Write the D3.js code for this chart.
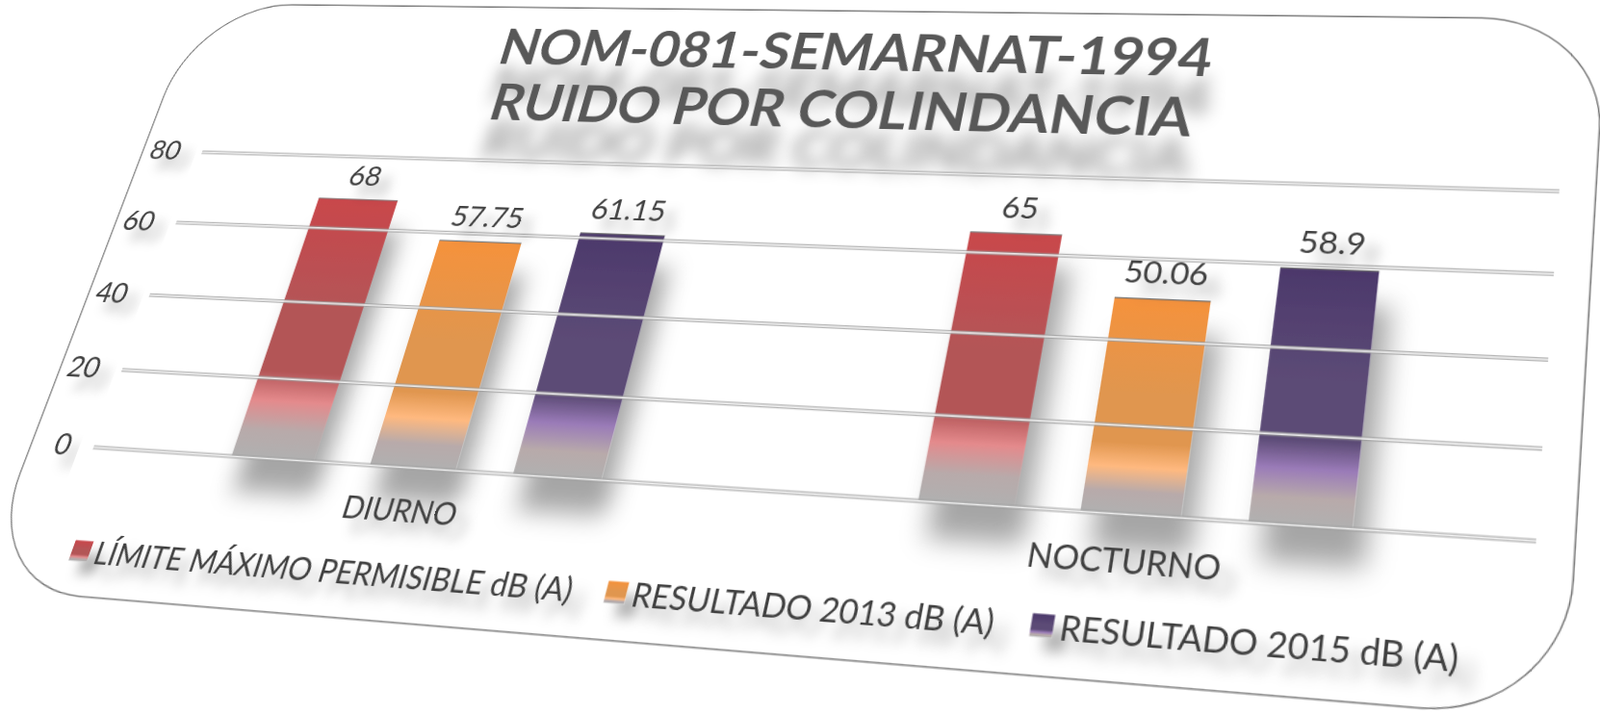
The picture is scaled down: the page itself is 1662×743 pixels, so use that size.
<!DOCTYPE html>
<html>
<head>
<meta charset="utf-8">
<script src="https://cdn.jsdelivr.net/npm/d3@7"></script>
<style>
  html, body { margin: 0; padding: 0; background: #fff; width: 1662px; height: 743px; overflow: hidden; }
  #chart { position: absolute; left: 0; top: 0; transform-origin: 0 0; }
  text { font-family: Lato, "Open Sans", sans-serif; }
</style>
</head>
<body>
<svg id="chart"></svg>
<script>
// data
const categories = ["DIURNO", "NOCTURNO"];
const seriesNames = ["LÍMITE MÁXIMO PERMISIBLE dB (A)", "RESULTADO 2013 dB (A)", "RESULTADO 2015 dB (A)"];
const limite = [68, 65];
const resultado2013 = [57.75, 50.06];
const resultado2015 = [61.15, 58.9];
const yTicks = [0, 20, 40, 60, 80];
const titleLines = ["NOM-081-SEMARNAT-1994", "RUIDO POR COLINDANCIA"];

const seriesValues = [limite, resultado2013, resultado2015];
const topColors = ["#c9474b", "#f5923c", "#4c386b"];
const midColors = ["#b35557", "#e0964f", "#5c4b76"];
const bandColors = ["#e48a8c", "#ffb97f", "#9a7bb8"];

// flat chart size, later bent into perspective with a matrix3d
const FW = 1800, FH = 900;
const ox = 250, oy = 250, W = 1400, H = 325;

// where the plot corners land on screen (80 line ends, 0 line ends)
const quad = [[210, 157.7], [1620, 198.3], [1596, 561.7], [97.3, 464.3]];
const flatCorners = [[ox, oy], [ox + W, oy], [ox + W, oy + H], [ox, oy + H]];

function solve(A, b) {
  const n = b.length;
  for (let i = 0; i < n; i++) {
    let p = i;
    for (let r = i + 1; r < n; r++) if (Math.abs(A[r][i]) > Math.abs(A[p][i])) p = r;
    [A[i], A[p]] = [A[p], A[i]]; [b[i], b[p]] = [b[p], b[i]];
    for (let r = i + 1; r < n; r++) {
      const f = A[r][i] / A[i][i];
      for (let c = i; c < n; c++) A[r][c] -= f * A[i][c];
      b[r] -= f * b[i];
    }
  }
  const x = new Array(n).fill(0);
  for (let i = n - 1; i >= 0; i--) {
    let s = b[i];
    for (let c = i + 1; c < n; c++) s -= A[i][c] * x[c];
    x[i] = s / A[i][i];
  }
  return x;
}

const A = [], B = [];
flatCorners.forEach(([x, y], i) => {
  const [X, Y] = quad[i];
  A.push([x, y, 1, 0, 0, 0, -x * X, -y * X]); B.push(X);
  A.push([0, 0, 0, x, y, 1, -x * Y, -y * Y]); B.push(Y);
});
const [a, b, c, d, e, f, g, h] = solve(A, B);

// inverse of the 3x3 homography, to place things seen on screen
const M = [[a, b, c], [d, e, f], [g, h, 1]];
function inv3(m) {
  const [[p, q, r], [s, t, u], [v, w, z]] = m;
  const det = p * (t * z - u * w) - q * (s * z - u * v) + r * (s * w - t * v);
  return [
    [(t * z - u * w) / det, (r * w - q * z) / det, (q * u - r * t) / det],
    [(u * v - s * z) / det, (p * z - r * v) / det, (r * s - p * u) / det],
    [(s * w - t * v) / det, (q * v - p * w) / det, (p * t - q * s) / det]
  ];
}
const Mi = inv3(M);
function unproject([X, Y]) {
  const k = Mi[2][0] * X + Mi[2][1] * Y + Mi[2][2];
  return [(Mi[0][0] * X + Mi[0][1] * Y + Mi[0][2]) / k, (Mi[1][0] * X + Mi[1][1] * Y + Mi[1][2]) / k];
}

const svg = d3.select("#chart")
  .attr("width", FW)
  .attr("height", FH)
  .style("transform", `matrix3d(${a},${d},0,${g},${b},${e},0,${h},0,0,1,0,${c},${f},0,1)`);

const defs = svg.append("defs");

function shadow(id, dx, dy, sd, op) {
  const fl = defs.append("filter").attr("id", id)
    .attr("x", "-50%").attr("y", "-50%").attr("width", "200%").attr("height", "250%");
  fl.append("feGaussianBlur").attr("in", "SourceAlpha").attr("stdDeviation", sd);
  fl.append("feOffset").attr("dx", dx).attr("dy", dy).attr("result", "off");
  fl.append("feFlood").attr("flood-color", "#000").attr("flood-opacity", op);
  fl.append("feComposite").attr("in2", "off").attr("operator", "in");
  const m = fl.append("feMerge");
  m.append("feMergeNode");
  m.append("feMergeNode").attr("in", "SourceGraphic");
}
shadow("barShadow", 14, 34, 12, 0.35);
shadow("titleShadow", 4, 44, 9, 0.4);
shadow("labelShadow", 14, 12, 6, 0.3);

seriesNames.forEach((s, i) => {
  const lg = defs.append("linearGradient").attr("id", "grad" + i)
    .attr("x1", 0).attr("y1", 0).attr("x2", 0).attr("y2", 1);
  [[0, topColors[i]], [0.45, midColors[i]], [0.68, midColors[i]], [0.79, bandColors[i]],
   [0.9, "#b8aaaa"], [1, "#b0b0b0"]].forEach(([o, col]) => {
    lg.append("stop").attr("offset", o).attr("stop-color", col);
  });
});

// chart frame
const fTL = unproject([206, 4]), fTR = unproject([1667, 20]);
const fBR = unproject([1628, 741]), fBL = unproject([-26, 617]);
const frameX = (fTL[0] + fBL[0]) / 2, frameX2 = (fTR[0] + fBR[0]) / 2;
const frameY = (fTL[1] + fTR[1]) / 2, frameY2 = (fBL[1] + fBR[1]) / 2;
svg.append("rect")
  .attr("x", frameX).attr("y", frameY)
  .attr("width", frameX2 - frameX).attr("height", frameY2 - frameY)
  .attr("rx", 115).attr("ry", 115)
  .attr("fill", "#fff").attr("stroke", "#707070").attr("stroke-width", 1.3);

// title
const titleAt = [unproject([876, 52]), unproject([861, 112])];
svg.append("g").attr("filter", "url(#titleShadow)")
  .selectAll("text").data(titleLines).join("text")
  .attr("x", (t, i) => titleAt[i][0])
  .attr("y", (t, i) => titleAt[i][1])
  .attr("text-anchor", "middle")
  .attr("dominant-baseline", "central")
  .attr("font-size", 58)
  .attr("font-weight", 700)
  .attr("fill", "#595959")
  .text(t => t);

const plot = svg.append("g").attr("transform", `translate(${ox},${oy})`);

const x0 = d3.scaleBand().domain(categories).range([0, W]);
const x1 = d3.scaleBand().domain(d3.range(seriesNames.length))
  .range([0, x0.bandwidth()]).paddingInner(0.4).paddingOuter(1.03);
const y = d3.scaleLinear().domain([0, 80]).range([H, 0]);

const bars = categories.flatMap((cat, ci) =>
  seriesValues.map((vals, si) => ({ cat, si, value: vals[ci] })));

plot.append("g").attr("filter", "url(#barShadow)")
  .selectAll("rect").data(bars).join("rect")
  .attr("x", dd => x0(dd.cat) + x1(dd.si))
  .attr("y", dd => y(dd.value))
  .attr("width", x1.bandwidth())
  .attr("height", dd => y(0) - y(dd.value))
  .attr("fill", dd => `url(#grad${dd.si})`);

plot.selectAll(".bar-top").data(bars).join("line")
  .attr("class", "bar-top")
  .attr("x1", dd => x0(dd.cat) + x1(dd.si))
  .attr("x2", dd => x0(dd.cat) + x1(dd.si) + x1.bandwidth())
  .attr("y1", dd => y(dd.value)).attr("y2", dd => y(dd.value))
  .attr("stroke", "#7a7a7a").attr("stroke-width", 1.2);

// gridlines + value axis
const yAxis = plot.append("g")
  .call(d3.axisLeft(y).tickValues(yTicks).tickSize(-W).tickPadding(26))
  .attr("font-family", null).attr("font-size", null);
yAxis.select(".domain").remove();
yAxis.selectAll(".tick line")
  .attr("stroke", "#9c9c9c").attr("stroke-width", 4).attr("stroke-opacity", 0.75);
yAxis.selectAll(".tick").append("line")
  .attr("x2", W).attr("stroke", "#fff").attr("stroke-width", 1.6).attr("stroke-opacity", 0.85);
yAxis.selectAll(".tick text")
  .attr("font-size", 31).attr("fill", "#404040")
  .attr("filter", "url(#labelShadow)");

// data labels
plot.append("g").attr("filter", "url(#labelShadow)")
  .selectAll("text").data(bars).join("text")
  .attr("x", dd => x0(dd.cat) + x1(dd.si) + x1.bandwidth() / 2)
  .attr("y", dd => y(dd.value) - 16)
  .attr("text-anchor", "middle")
  .attr("font-size", 31)
  .attr("fill", "#404040")
  .text(dd => dd.value);

// category labels
const catY = (unproject([440, 530])[1] + unproject([1171, 583])[1]) / 2 - oy;
plot.append("g").attr("filter", "url(#labelShadow)")
  .selectAll("text").data(categories).join("text")
  .attr("x", cat => x0(cat) + x0.bandwidth() / 2)
  .attr("y", catY)
  .attr("text-anchor", "middle")
  .attr("dominant-baseline", "central")
  .attr("font-size", 30)
  .attr("fill", "#404040")
  .text(cat => cat);

// legend
const swatchAt = [unproject([83, 576]), unproject([641, 613]), unproject([1083, 649])];
const legY = d3.mean(swatchAt, p => p[1]);
const leg = svg.append("g").attr("filter", "url(#labelShadow)")
  .selectAll("g").data(seriesNames).join("g")
  .attr("transform", (s, i) => `translate(${swatchAt[i][0]},${legY})`);
leg.append("rect")
  .attr("x", -10).attr("y", -10).attr("width", 20).attr("height", 20)
  .attr("fill", (s, i) => `url(#grad${i})`);
leg.append("text")
  .attr("x", 16).attr("y", 0)
  .attr("dominant-baseline", "central")
  .attr("font-size", 30.5)
  .attr("fill", "#404040")
  .text(s => s);
</script>
</body>
</html>
